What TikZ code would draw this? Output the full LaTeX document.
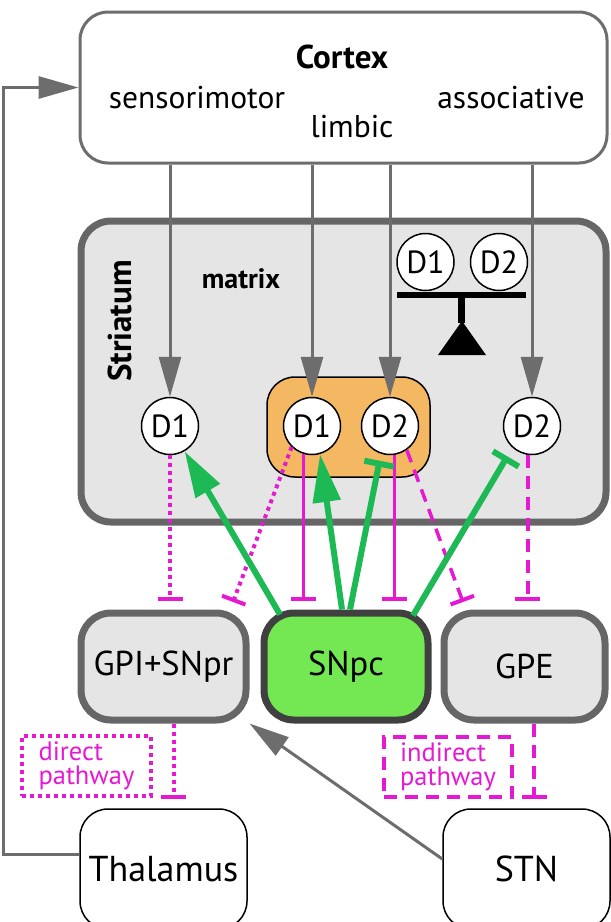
\documentclass[tikz,border=0pt]{standalone}
\usepackage{fontspec}
\setmainfont{PT Sans}
\usetikzlibrary{arrows.meta}

\definecolor{lineGray}{HTML}{6D6D6D}
\definecolor{boxGray}{HTML}{666666}
\definecolor{fillGray}{HTML}{E5E5E5}
\definecolor{snpcBorder}{HTML}{404040}
\definecolor{snpcGreen}{HTML}{73E853}
\definecolor{dopaGreen}{RGB}{29,185,84}
\definecolor{patchOrange}{HTML}{F4B862}
\definecolor{gabaPink}{RGB}{230,25,210}

\begin{document}
\begin{tikzpicture}[x=1pt, y=-1pt,
  outbox/.style = {draw=lineGray, line width=3pt, fill=white, rounded corners=28pt, inner sep=0pt},
  endbox/.style = {draw=black, line width=1.5pt, fill=white, rounded corners=28pt, inner sep=0pt,
                   font=\fontsize{36}{36}\selectfont},
  nucleus/.style = {draw=boxGray, line width=7pt, fill=fillGray, rounded corners=30pt, inner sep=0pt,
                    font=\fontsize{34.5}{34.5}\selectfont},
  recep/.style = {circle, draw=black, line width=1.5pt, fill=white, minimum size=57pt, inner sep=0pt,
                  font=\fontsize{32}{32}\selectfont},
  title/.style = {font=\fontsize{33}{33}\selectfont\bfseries, inner sep=0pt},
  area/.style = {font=\fontsize{31.5}{31.5}\selectfont, inner sep=0pt},
  pathlbl/.style = {font=\fontsize{26.5}{24}\selectfont, text=gabaPink, align=left, inner sep=0pt},
  proj/.style = {draw=lineGray, line width=3pt, -{Triangle[length=40pt,width=22pt]}},
  dopa/.style = {draw=dopaGreen, line width=6pt},
  inhib/.style = {draw=gabaPink, -{Bar[width=25pt,line width=4pt]}},
  direct/.style = {line width=4pt, dash pattern=on 4pt off 4pt},
  indirect/.style = {line width=3.5pt, dash pattern=on 13pt off 8pt},
  both/.style = {line width=3pt}]

\useasboundingbox (0,0) rectangle (611,922);

% cortex
\node[outbox, minimum width=527pt, minimum height=151pt] (Cortex) at (343.5,87.5) {};
\node[title, anchor=base] (ctxName) at (342,68) {Cortex};
\node[area, anchor=base] (sensori) at (197,108) {sensorimotor};
\node[area, anchor=base] (limbic) at (352,137) {limbic};
\node[area, anchor=base] (assoc) at (511,108) {associative};

% striatum
\node[nucleus, minimum width=525pt, minimum height=301pt] (Striatum) at (343.5,371.5) {};
\node[title, rotate=90] (striLbl) at (120,321) {Striatum};
\node[title, font=\fontsize{28}{28}\selectfont\bfseries, anchor=base] (matrix) at (241,288) {matrix};

% D1/D2 balance
\node[recep] (balD1) at (425.5,262) {D1};
\node[recep] (balD2) at (499,262) {D2};
\draw[line width=6pt] (397,294.5) -- (526,294.5);
\draw[line width=7pt] (461.5,294.5) -- (461.5,323);
\fill (462,321) -- (486,355) -- (438,355) -- cycle;

\node[draw=black, line width=1.5pt, fill=patchOrange, rounded corners=28pt,
      minimum width=163pt, minimum height=100pt] (patch) at (348.5,427) {};
\node[recep] (d1a) at (170,426) {D1};
\node[recep] (d1b) at (312,426) {D1};
\node[recep] (d2b) at (390,426) {D2};
\node[recep] (d2c) at (532,426) {D2};

% output nuclei
\node[nucleus, minimum width=165pt, minimum height=107pt] (GPI) at (163.5,666.5) {GPI+SNpr};
\node[nucleus, draw=snpcBorder, fill=snpcGreen, minimum width=164pt, minimum height=107pt] (SNpc) at (346,666.5) {SNpc};
\node[nucleus, minimum width=161pt, minimum height=107pt] (GPE) at (524.5,666.5) {GPE};

\node[endbox, minimum width=167pt, minimum height=120pt] (Thalamus) at (163.5,869) {Thalamus};
\node[endbox, minimum width=167pt, minimum height=120pt] (STN) at (526.5,869) {STN};

\node[pathlbl, draw=gabaPink, direct, minimum width=129pt, minimum height=60pt] (dirLbl) at (86.5,766) {direct\\pathway};
\node[pathlbl, draw=gabaPink, indirect, minimum width=128pt, minimum height=60pt] (indirLbl) at (448,767) {indirect\\pathway};

\coordinate (loopL) at (3.5,87.5);
\coordinate (gpiIn) at (233,602);
\coordinate (gpeIn) at (463,602);

% cortical input
\draw[proj] (d1a |- Cortex.south) -- (d1a);
\draw[proj] (d1b |- Cortex.south) -- (d1b);
\draw[proj] (d2b |- Cortex.south) -- (d2b);
\draw[proj] (d2c |- Cortex.south) -- (d2c);

% thalamic loop and STN
\draw[proj] ([yshift=15pt]Thalamus.west) -| (loopL) -- (Cortex.west);
\draw[proj] ([yshift=10pt]STN.west) -- (GPI.south east);

% striatal output
\draw[inhib, direct] (d1a.south) -- (d1a.south |- GPI.north) [shorten >=9pt];
\draw[inhib, direct] (d1b.-134) -- (gpiIn);
\draw[inhib, both] (d1b.-106) -- (d1b.-106 |- SNpc.north) [shorten >=9pt];
\draw[inhib, both] (d2b.-82) -- (d2b.-82 |- SNpc.north) [shorten >=9pt];
\draw[inhib, indirect] (d2b.-55) -- (gpeIn);
\draw[inhib, indirect] (d2c.-98) -- (d2c.-98 |- GPE.north) [shorten >=9pt];
\draw[inhib, direct] ([xshift=10pt]GPI.south) -- ([xshift=10pt]GPI.south |- Thalamus.north) [shorten >=9pt];
\draw[inhib, indirect] ([xshift=9.5pt]GPE.south) -- ([xshift=9.5pt]GPE.south |- STN.north) [shorten >=9pt];

% dopamine
\draw[dopa, -{Triangle[length=46pt,width=27pt]}] ([xshift=-66pt,yshift=-5pt]SNpc.north) -- (d1a.-60);
\draw[dopa, -{Triangle[length=48pt,width=27pt]}] ([xshift=-4pt]SNpc.north) -- (d1b.-74);
\draw[dopa, -{Bar[width=30pt]}, shorten >=7pt] ([xshift=4pt]SNpc.north) -- (d2b.-108);
\draw[dopa, -{Bar[width=30pt]}, shorten >=10pt] ([xshift=67pt,yshift=-6pt]SNpc.north) -- (d2c.-132);

\end{tikzpicture}
\end{document}
